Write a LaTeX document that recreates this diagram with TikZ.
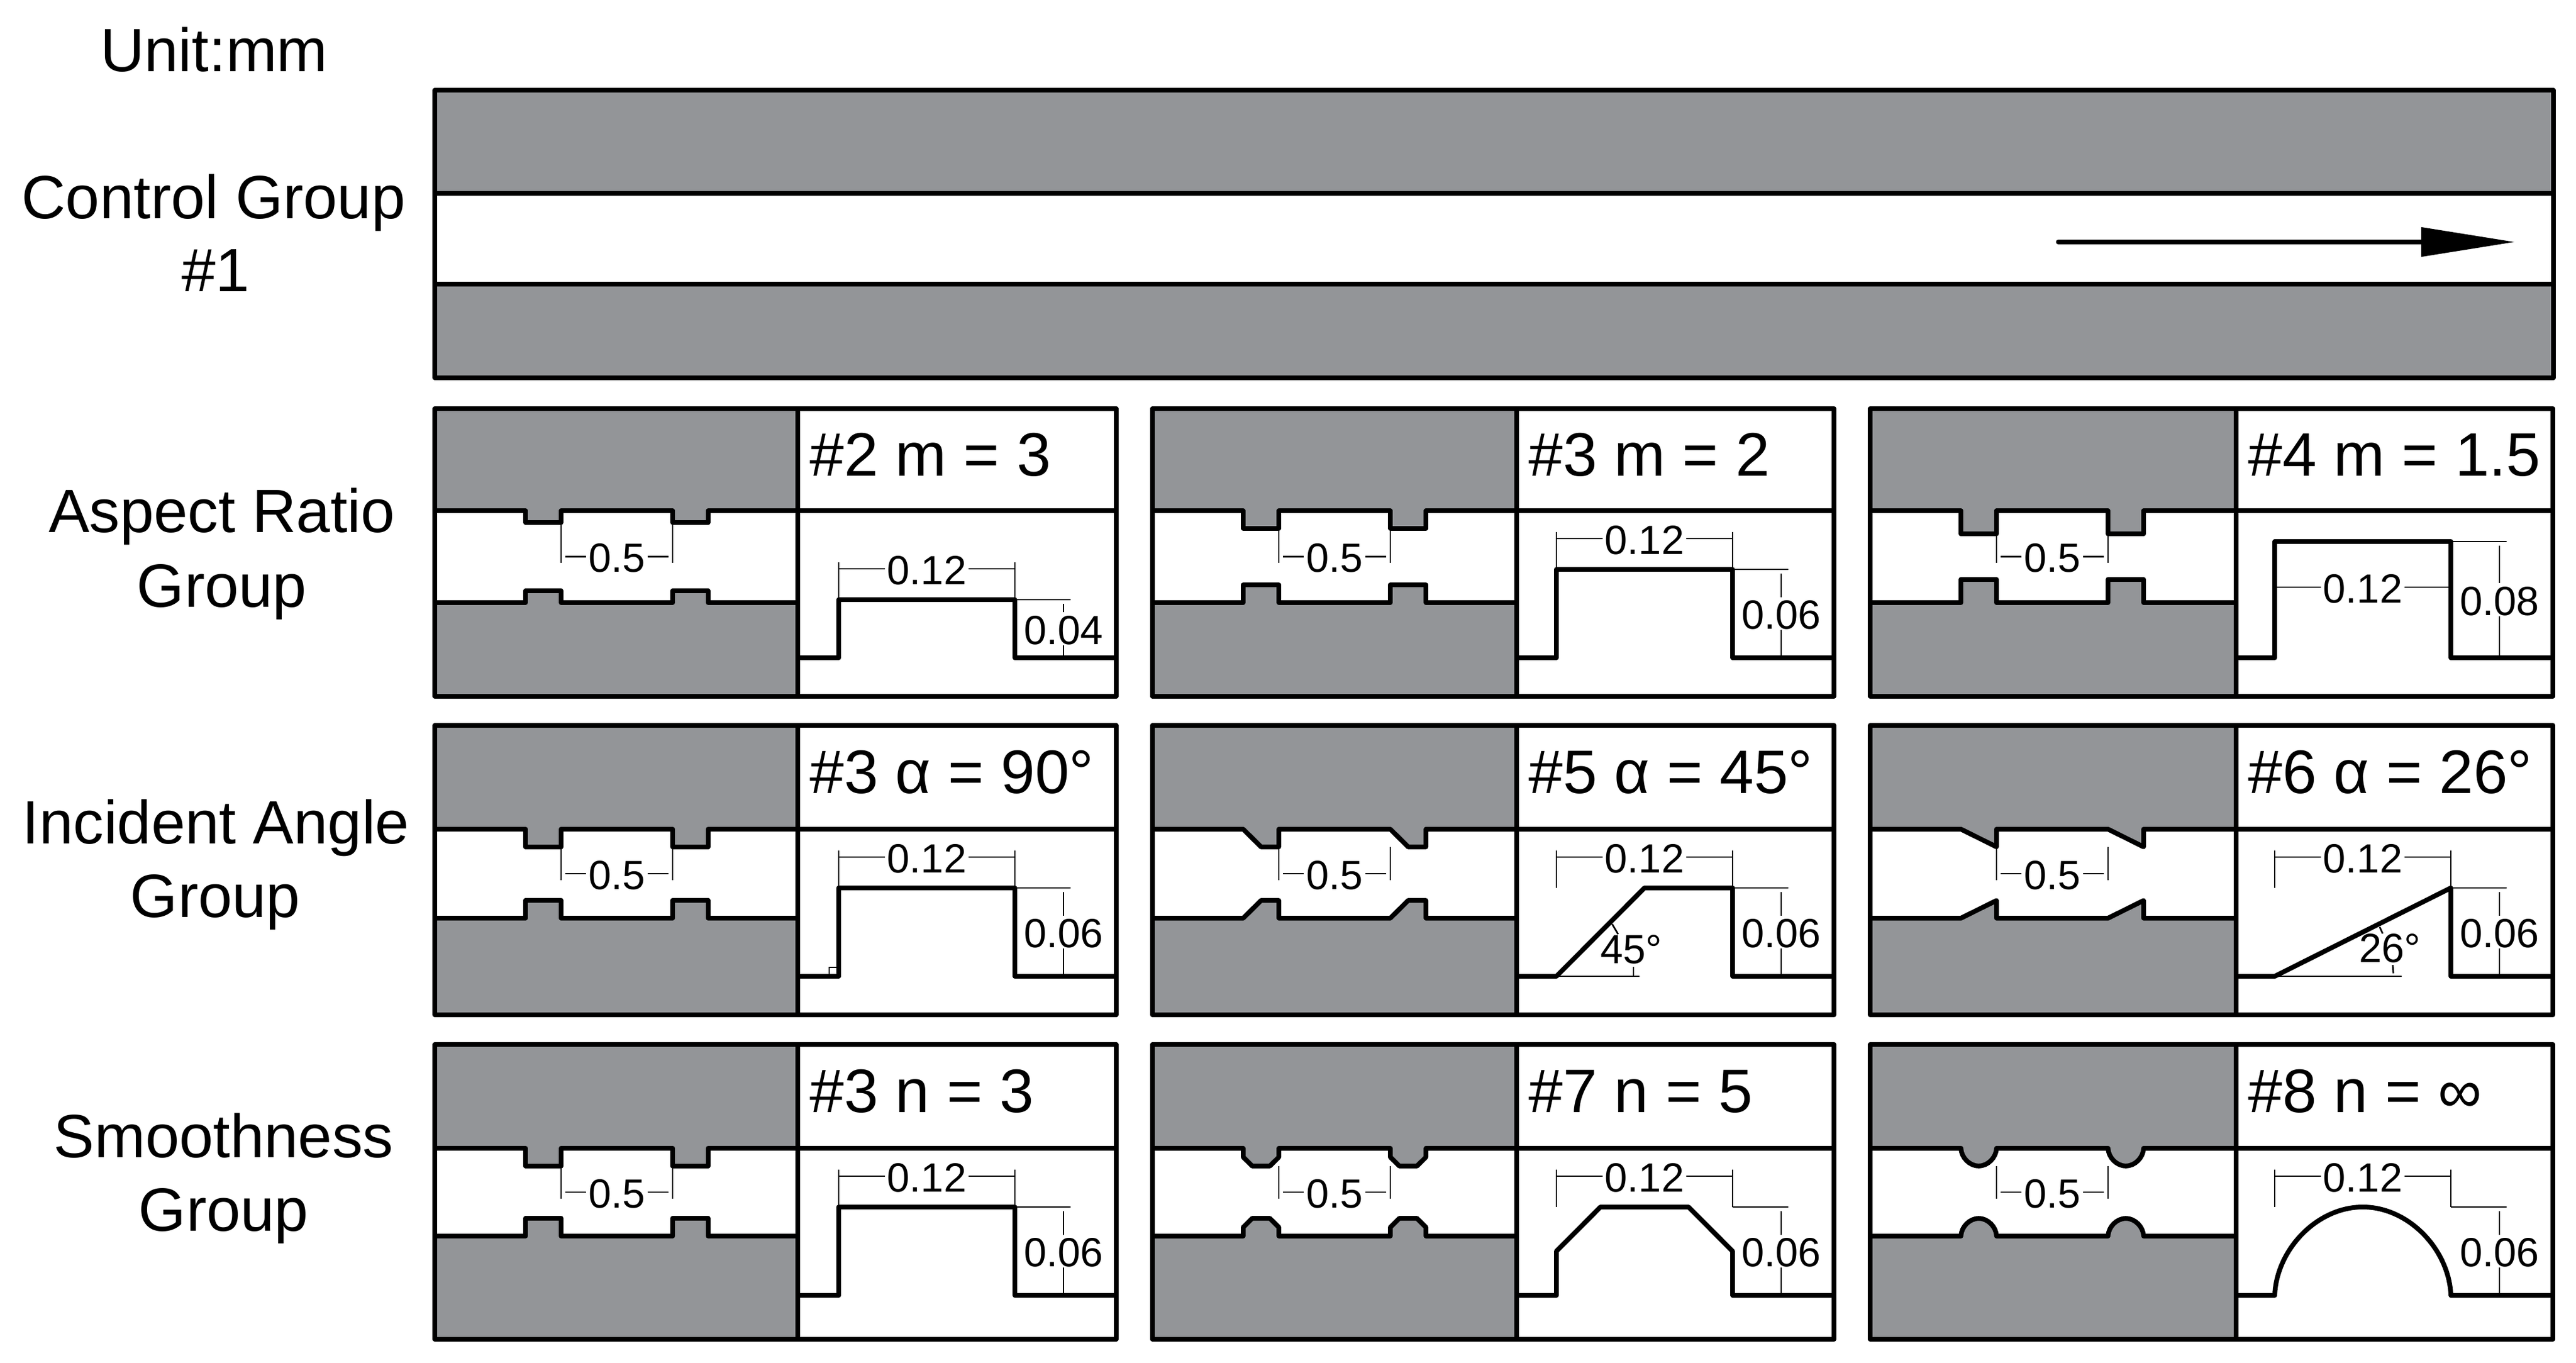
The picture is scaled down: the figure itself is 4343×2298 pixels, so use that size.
\documentclass[tikz,border=0pt]{standalone}
\usepackage{fontspec}
\setmainfont{Liberation Sans}
\usetikzlibrary{arrows.meta}
\definecolor{metal}{HTML}{939598}
\newcommand\RibRect[4]{ -- (#1,#2) -- (#1,{#2+#4}) -- ({#1+#3},{#2+#4}) -- ({#1+#3},#2) }
\newcommand\RibSlope[4]{ -- (#1,#2) -- ({#1+0.5*#3},{#2+#4}) -- ({#1+#3},{#2+#4}) -- ({#1+#3},#2) }
\newcommand\RibTri[4]{ -- (#1,#2) -- ({#1+#3},{#2+#4}) -- ({#1+#3},#2) }
\newcommand\RibCham[4]{ -- (#1,#2) -- (#1,{#2+0.5*#4}) -- ({#1+0.25*#3},{#2+#4}) -- ({#1+0.75*#3},{#2+#4}) -- ({#1+#3},{#2+0.5*#4}) -- ({#1+#3},#2) }
\newcommand\RibArc[4]{ -- (#1,#2) .. controls ({#1+0.01*#3},{#2+0.52*#4}) and ({#1+0.24*#3},{#2+#4}) .. ({#1+0.5*#3},{#2+#4}) .. controls ({#1+0.76*#3},{#2+#4}) and ({#1+0.99*#3},{#2+0.52*#4}) .. ({#1+#3},#2) }
\newcommand\SetCol[4]{\def\xL{#1}\def\xD{#2}\def\xR{#3}\def\xO{#4}}
\newcommand\SetRow[6]{\def\yT{#1}\def\yU{#2}\def\yL{#3}\def\yB{#4}\def\yC{#5}\def\yN{#6}}
% dimension text, set a little lower than its dimension line
\newcommand\DimT[1]{\raisebox{-0.6pt}[\height][0pt]{#1}}
% #1 id, #2 rib macro, #3 detail height in px, #4 heading, #5 height text
\newcommand\Cell[5]{%
  \pgfmathsetmacro\hP{#3/5}\pgfmathsetmacro\hM{-#3/5}%
  \pgfmathsetmacro\yM{(\yU+\yL)/2}%
  \pgfmathsetmacro\yTop{\yC-#3}\pgfmathsetmacro\yMid{\yC-#3/2}%
  \pgfmathsetmacro\xE{\xO+297}%
  \fill[white] (\xL,\yT) rectangle (\xR,\yB);
  \fill[metal] (\xL,\yT) -- (\xL,\yU) #2{\xL+153}{\yU}{60}{\hP} #2{\xL+401}{\yU}{60}{\hP} -- (\xD,\yU) -- (\xD,\yT) -- cycle;
  \fill[metal] (\xL,\yB) -- (\xL,\yL) #2{\xL+153}{\yL}{60}{\hM} #2{\xL+401}{\yL}{60}{\hM} -- (\xD,\yL) -- (\xD,\yB) -- cycle;
  \draw[heavy] (\xL,\yU) #2{\xL+153}{\yU}{60}{\hP} #2{\xL+401}{\yU}{60}{\hP} -- (\xR,\yU);
  \draw[heavy] (\xL,\yL) #2{\xL+153}{\yL}{60}{\hM} #2{\xL+401}{\yL}{60}{\hM} -- (\xD,\yL);
  \draw[heavy] (\xD,\yC) #2{\xO}{\yC}{297}{-#3} -- (\xR,\yC);
  \draw[heavy] (\xL,\yT) rectangle (\xR,\yB);
  \draw[heavy] (\xD,\yT) -- (\xD,\yB);
  \node[head,anchor=base west] (#1-t) at (\xD+20,\yN) {#4};
  % 0.5 pitch
  \draw[dimen] ({\xL+213},{\yU+\hP}) -- ({\xL+213},{\yM+11});
  \draw[dimen] ({\xL+401},{\yU+\hP}) -- ({\xL+401},{\yM+11});
  \node[dimtext] (#1-p) at ({\xL+307},\yM) {\DimT{0.5}};
  \draw[dimen] (#1-p.west) -- ({\xL+220},\yM);
  \draw[dimen] (#1-p.east) -- ({\xL+394},\yM);
  % height
  \draw[dimen] (\xE,\yTop) -- ({\xE+94},\yTop);
  \node[dimtext] (#1-h) at ({\xE+82},\yMid) {\DimT{#5}};
  \draw[dimen] (#1-h.north) -- ({\xE+82},{\yTop+7});
  \draw[dimen] (#1-h.south) -- ({\xE+82},{\yC-4});
}
% width dimension above the rib
\newcommand\WidthAbove[1]{%
  \pgfmathsetmacro\yD{\yTop-52}%
  \draw[dimen] (\xO,\yTop) -- (\xO,{\yD-11});
  \draw[dimen] (\xE,\yTop) -- (\xE,{\yD-11});
  \node[dimtext] (#1-w) at ({\xO+148.5},\yD) {\DimT{0.12}};
  \draw[dimen] (#1-w.west) -- (\xO,\yD);
  \draw[dimen] (#1-w.east) -- (\xE,\yD);
}
\tikzset{
  x=0.25pt,y=-0.25pt,
  heavy/.style={draw=black,line width=2pt,line join=round},
  dimen/.style={draw=black,line width=0.7pt},
  dimtext/.style={inner sep=0.75pt,font=\fontsize{17.2}{17.2}\selectfont},
  head/.style={inner sep=0pt,font=\fontsize{25.9}{25.9}\selectfont},
  grouplabel/.style={inner sep=0pt,anchor=base,font=\fontsize{25.75}{25.75}\selectfont},
}
\begin{document}
\begin{tikzpicture}
\useasboundingbox (0,0) rectangle (4343,2298);
\fill[white] (0,0) rectangle (4343,2298);
% labels
\node[grouplabel] (unit) at (361,121) {Unit:mm};
\node[grouplabel] (cg1) at (360,369) {Control Group};
\node[grouplabel] (cg2) at (364,492) {\#1};
\node[grouplabel] (ar1) at (374,898) {Aspect Ratio};
\node[grouplabel] (ar2) at (374,1023) {Group};
\node[grouplabel] (ia1) at (364,1422) {Incident Angle};
\node[grouplabel] (ia2) at (363,1546) {Group};
\node[grouplabel] (sm1) at (377,1951) {Smoothness};
\node[grouplabel] (sm2) at (377,2075) {Group};
% control channel
\fill[metal] (733,152) rectangle (4305,326);
\fill[metal] (733,479) rectangle (4305,637);
\draw[heavy] (733,326) -- (4305,326);
\draw[heavy] (733,479) -- (4305,479);
\draw[heavy] (733,152) rectangle (4305,637);
\coordinate (flowS) at (3470,408);
\coordinate (flowE) at (4240,408);
\draw[line width=1.9pt,line cap=round,-{Triangle[length=39.5pt,width=12pt]}] (flowS) -- (flowE);
% row 1
\SetRow{689}{861}{1016}{1174}{1109}{803}
\SetCol{733}{1345}{1882}{1414}
\Cell{a1}{\RibRect}{98}{\#2 m = 3}{0.04}\WidthAbove{a1}
\SetCol{1943}{2557}{3092}{2624}
\Cell{a2}{\RibRect}{149}{\#3 m = 2}{0.06}\WidthAbove{a2}
\SetCol{3153}{3770}{4304}{3835}
\Cell{a3}{\RibRect}{196}{\#4 m = 1.5}{0.08}
\node[dimtext] (a3-w) at ({\xO+148.5},990) {\DimT{0.12}};
\draw[dimen] (a3-w.west) -- (\xO,990);
\draw[dimen] (a3-w.east) -- (\xE,990);
% row 2
\SetRow{1223}{1398}{1548}{1711}{1646}{1337}
\SetCol{733}{1345}{1882}{1414}
\Cell{b1}{\RibRect}{149}{\#3 α = 90°}{0.06}\WidthAbove{b1}
\draw[dimen] (1398,1646) -- (1398,1631) -- (1412,1631);
\SetCol{1943}{2557}{3092}{2624}
\Cell{b2}{\RibSlope}{149}{\#5 α = 45°}{0.06}\WidthAbove{b2}
\draw[dimen] (2624,1646) -- (2764,1646);
\node[dimtext] (b2-a) at (2750,1601) {45°};
\draw[dimen] (2718,1558) -- (2728,1575);
\draw[dimen] (2754,1630) -- (2754,1646);
\SetCol{3153}{3770}{4304}{3835}
\Cell{b3}{\RibTri}{149}{\#6 α = 26°}{0.06}\WidthAbove{b3}
\draw[dimen] (3835,1646) -- (4049,1646);
\node[dimtext] (b3-a) at (4029,1599) {26°};
\draw[dimen] (4012,1563) -- (4017,1574);
\draw[dimen] (4034,1627) -- (4035,1641);
% row 3
\SetRow{1761}{1936}{2084}{2258}{2184}{1875}
\SetCol{733}{1345}{1882}{1414}
\Cell{c1}{\RibRect}{149}{\#3 n = 3}{0.06}\WidthAbove{c1}
\SetCol{1943}{2557}{3092}{2624}
\Cell{c2}{\RibCham}{149}{\#7 n = 5}{0.06}\WidthAbove{c2}
\SetCol{3153}{3770}{4304}{3835}
\Cell{c3}{\RibArc}{149}{\#8 n = ∞}{0.06}\WidthAbove{c3}
\end{tikzpicture}
\end{document}
